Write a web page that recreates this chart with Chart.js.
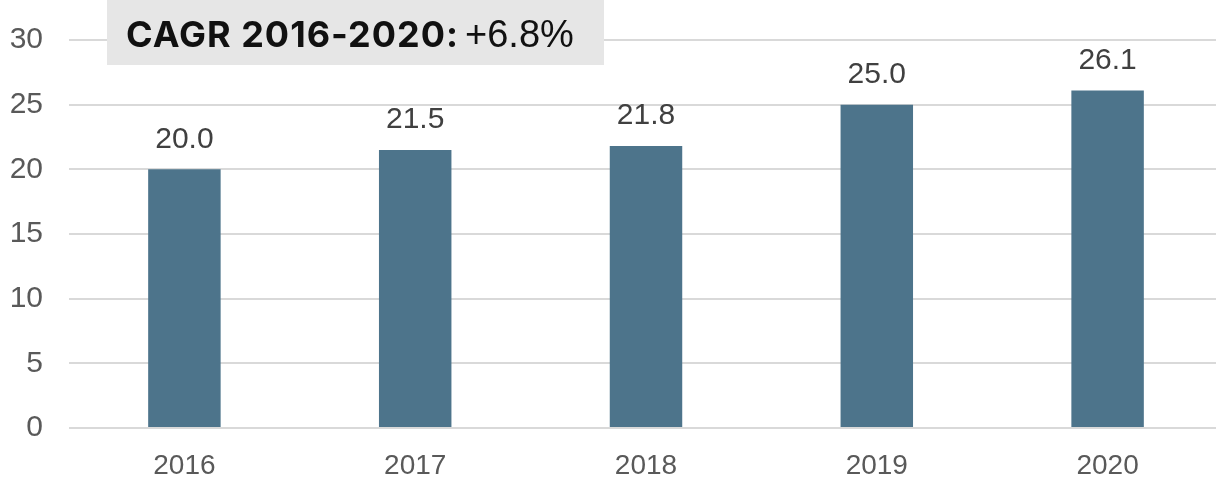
<!DOCTYPE html>
<html>
<head>
<meta charset="utf-8">
<script src="https://cdn.jsdelivr.net/npm/chart.js@4.4.1/dist/chart.umd.min.js"></script>
<style>
  html, body { margin: 0; padding: 0; background: #fff; overflow: hidden; }
  #wrap { width: 1223px; height: 479px; }
</style>
</head>
<body>
<div id="wrap"><canvas id="cagrChart" width="1223" height="479"></canvas></div>
<script>
var years = ["2016", "2017", "2018", "2019", "2020"];
var values = [20.0, 21.5, 21.8, 25.0, 26.1];
var yTicks = [0, 5, 10, 15, 20, 25, 30];
var cagrTitle = "CAGR 2016-2020:";
var cagrValue = "+6.8%";

const barColor = "#4d748b";
const axisFont = "'Liberation Sans', Arial, sans-serif";

// value labels on top of each bar
const valueLabels = {
  id: "valueLabels",
  afterDatasetsDraw(chart) {
    const ctx = chart.ctx;
    const meta = chart.getDatasetMeta(0);
    ctx.save();
    ctx.font = "30px " + axisFont;
    ctx.fillStyle = "#404040";
    ctx.textAlign = "center";
    ctx.textBaseline = "middle";
    meta.data.forEach(function (bar, i) {
      ctx.fillText(values[i].toFixed(1), bar.x, bar.y - 30);
    });
    ctx.restore();
  }
};

// grey callout box with the growth rate
const cagrBox = {
  id: "cagrBox",
  afterDraw(chart) {
    const ctx = chart.ctx;
    ctx.save();
    ctx.fillStyle = "#e6e6e6";
    ctx.fillRect(107, 0, 497, 65);
    ctx.textBaseline = "alphabetic";
    ctx.textAlign = "left";
    ctx.fillStyle = "#111";
    ctx.font = "bold 36px Inter, 'Open Sans', sans-serif";
    ctx.letterSpacing = "1px";
    ctx.fillText(cagrTitle, 126, 47);
    const w = ctx.measureText(cagrTitle).width;
    ctx.letterSpacing = "0px";
    ctx.font = "38px " + axisFont;
    ctx.fillText(cagrValue, 126 + w + 6, 47);
    ctx.restore();
  }
};

new Chart(document.getElementById("cagrChart"), {
  type: "bar",
  data: {
    labels: years,
    datasets: [{
      data: values,
      backgroundColor: barColor,
      borderWidth: 0,
      categoryPercentage: 1,
      barPercentage: 0.314
    }]
  },
  options: {
    responsive: false,
    animation: false,
    layout: { padding: { top: 40, right: 0, bottom: 0, left: 0 } },
    plugins: {
      legend: { display: false },
      tooltip: { enabled: false }
    },
    scales: {
      x: {
        grid: { display: false, drawTicks: false },
        border: { display: false },
        ticks: {
          color: "#595959",
          font: { family: axisFont, size: 28 },
          padding: 21
        },
        afterFit(scale) { scale.height = 51; }
      },
      y: {
        min: 0,
        max: 30,
        afterBuildTicks(scale) {
          scale.ticks = yTicks.map(function (v) { return { value: v }; });
        },
        grid: { color: "#d9d9d9", lineWidth: 2, drawTicks: false },
        border: { display: false },
        ticks: {
          color: "#595959",
          font: { family: axisFont, size: 30 },
          padding: 26
        },
        afterFit(scale) {
          scale.width = 69;
          // let layout.padding decide the plot top
          scale.paddingTop = 0;
          scale.paddingBottom = 0;
        }
      }
    }
  },
  plugins: [valueLabels, cagrBox]
});
</script>
</body>
</html>
